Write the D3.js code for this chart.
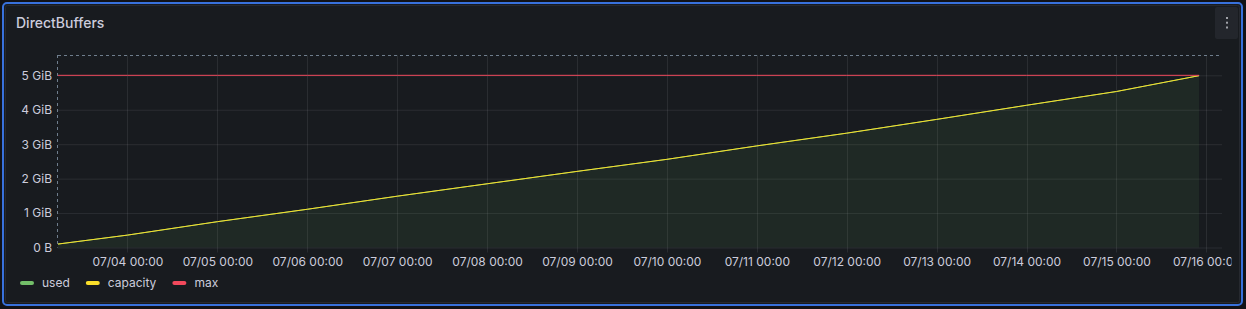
<!DOCTYPE html>
<html>
<head>
<meta charset="utf-8">
<script src="https://cdn.jsdelivr.net/npm/d3@7"></script>
<style>
  html, body { margin: 0; padding: 0; background: #111217; }
  svg { display: block; font-family: Inter, "Noto Sans", sans-serif; }
</style>
</head>
<body>
<svg id="main" width="1246" height="309"></svg>
<script>
const width = 1246;
const height = 309;
const position = { left: 58, top: 55, right: 24, bottom: 61.5 };
const innerWidth = width - position.left - position.right;
const innerHeight = height - position.top - position.bottom;

// values (GiB)
const times = [
    '2024-07-03T05:27', '2024-07-04T00:00', '2024-07-05T00:00', '2024-07-06T00:00',
    '2024-07-07T00:00', '2024-07-08T00:00', '2024-07-09T00:00', '2024-07-10T00:00',
    '2024-07-11T00:00', '2024-07-12T00:00', '2024-07-13T00:00', '2024-07-14T00:00',
    '2024-07-15T00:00', '2024-07-15T22:04'
];
const used = [0.10, 0.36, 0.75, 1.11, 1.49, 1.85, 2.21, 2.56, 2.95, 3.32, 3.72, 4.13, 4.53, 4.99];
const capacity = [0.10, 0.36, 0.75, 1.11, 1.49, 1.85, 2.21, 2.56, 2.95, 3.32, 3.72, 4.13, 4.53, 4.99];
const max = [5, 5, 5, 5, 5, 5, 5, 5, 5, 5, 5, 5, 5, 5];
const yTicks = [0, 1, 2, 3, 4, 5];
const yTickLabels = ['0 B', '1 GiB', '2 GiB', '3 GiB', '4 GiB', '5 GiB'];
const xTicks = [
    '2024-07-04', '2024-07-05', '2024-07-06', '2024-07-07', '2024-07-08', '2024-07-09',
    '2024-07-10', '2024-07-11', '2024-07-12', '2024-07-13', '2024-07-14', '2024-07-15', '2024-07-16'
];
const timeRange = ['2024-07-03T05:27', '2024-07-16T04:11'];
const yMax = 5.59;

const series = [
    { name: 'used', color: '#73bf69', values: used },
    { name: 'capacity', color: '#fade2a', values: capacity },
    { name: 'max', color: '#f2495c', values: max }
];

const parse = d3.timeParse('%Y-%m-%dT%H:%M');
const parseDay = d3.timeParse('%Y-%m-%d');
const dates = times.map(parse);

const svg = d3.select('#main');

// panel
svg.append('rect')
    .attr('x', 3).attr('y', 3)
    .attr('width', width - 7).attr('height', height - 7)
    .attr('rx', 4)
    .attr('fill', '#181b1f')
    .attr('stroke', '#3871dc')
    .attr('stroke-width', 2);
svg.append('rect')
    .attr('x', 5.5).attr('y', 5.5)
    .attr('width', width - 12).attr('height', height - 12)
    .attr('rx', 2)
    .attr('fill', 'none')
    .attr('stroke', '#26292f');

svg.append('text')
    .text('DirectBuffers')
    .attr('x', 16).attr('y', 28)
    .attr('fill', '#ccccdc')
    .attr('font-size', 14)
    .attr('font-weight', 500);

// menu button
svg.append('rect')
    .attr('x', 1215).attr('y', 7)
    .attr('width', 23).attr('height', 32)
    .attr('rx', 2)
    .attr('fill', '#23262c');
[18, 22.7, 27.5].forEach(cy => {
    svg.append('rect')
        .attr('x', 1226).attr('y', cy - 1)
        .attr('width', 2).attr('height', 2)
        .attr('fill', '#a0a2a8');
});

const mainGroup = svg.append('g')
    .attr('transform', `translate(${position.left}, ${position.top})`);

const xScale = d3.scaleTime()
    .domain(timeRange.map(parse))
    .range([0, innerWidth]);
const yScale = d3.scaleLinear()
    .domain([0, yMax])
    .range([innerHeight, 0]);

// grid
mainGroup.append('g')
    .selectAll('line')
    .data(yTicks)
    .join('line')
    .attr('x1', 0).attr('x2', innerWidth)
    .attr('y1', d => yScale(d) + 0.5).attr('y2', d => yScale(d) + 0.5)
    .attr('stroke', 'rgba(204,204,220,0.1)');
mainGroup.append('g')
    .selectAll('line')
    .data(xTicks.map(parseDay))
    .join('line')
    .attr('x1', d => Math.round(xScale(d)) + 0.5).attr('x2', d => Math.round(xScale(d)) + 0.5)
    .attr('y1', 0).attr('y2', innerHeight + 5)
    .attr('stroke', 'rgba(204,204,220,0.1)');

// dashed frame
mainGroup.append('line')
    .attr('x1', 0).attr('x2', innerWidth)
    .attr('y1', 0.5).attr('y2', 0.5)
    .attr('stroke', '#6f7e8d')
    .attr('stroke-dasharray', '3,3');
mainGroup.append('line')
    .attr('x1', -0.5).attr('x2', -0.5)
    .attr('y1', 0).attr('y2', innerHeight)
    .attr('stroke', '#6f7e8d')
    .attr('stroke-dasharray', '3,3');

// axes labels
const yAxis = d3.axisLeft(yScale)
    .tickValues(yTicks)
    .tickFormat((d, i) => yTickLabels[i])
    .tickSize(0)
    .tickPadding(6);
const yAxisG = mainGroup.append('g').call(yAxis);
yAxisG.select('.domain').remove();
yAxisG.selectAll('text')
    .attr('fill', '#ccccdc')
    .attr('font-size', 12)
    .attr('font-family', 'Inter, sans-serif');

const xAxis = d3.axisBottom(xScale)
    .tickValues(xTicks.map(parseDay))
    .tickFormat(d3.timeFormat('%m/%d %H:%M'))
    .tickSize(0)
    .tickPadding(10);
const xAxisG = mainGroup.append('g')
    .attr('transform', `translate(0, ${innerHeight})`)
    .call(xAxis);
xAxisG.select('.domain').remove();
xAxisG.selectAll('text')
    .attr('fill', '#ccccdc')
    .attr('font-size', 12)
    .attr('font-family', 'Inter, sans-serif');
// the last label is cut at the panel's right edge, as in the original
const lastTickX = xScale(parseDay(xTicks[xTicks.length - 1]));
svg.append('clipPath').attr('id', 'xclip')
    .append('rect')
    .attr('x', -100).attr('y', 0)
    .attr('width', 1231 - position.left - lastTickX + 100).attr('height', 40);
xAxisG.selectAll('.tick').filter((d, i) => i === xTicks.length - 1)
    .select('text')
    .attr('clip-path', 'url(#xclip)');

// series
const usedArea = d3.area()
    .x((d, i) => xScale(dates[i]))
    .y0(yScale(0))
    .y1(d => yScale(d));
mainGroup.append('path')
    .attr('d', usedArea(used))
    .attr('fill', 'rgba(115,191,105,0.09)');

const line = d3.line()
    .x((d, i) => xScale(dates[i]))
    .y(d => yScale(d));
series.forEach(s => {
    mainGroup.append('path')
        .attr('d', line(s.values))
        .attr('fill', 'none')
        .attr('stroke', s.color)
        .attr('stroke-width', 1);
});

// legend
const legend = svg.append('g').attr('transform', 'translate(20, 283)');
let lx = 0;
series.forEach(s => {
    legend.append('rect')
        .attr('x', lx).attr('y', -2)
        .attr('width', 14).attr('height', 4)
        .attr('rx', 2)
        .attr('fill', s.color);
    const t = legend.append('text')
        .text(s.name)
        .attr('x', lx + 22).attr('y', 0)
        .attr('dy', '0.35em')
        .attr('fill', '#ccccdc')
        .attr('font-size', 12);
    lx += 22 + t.node().getComputedTextLength() + 16;
});
</script>
</body>
</html>
